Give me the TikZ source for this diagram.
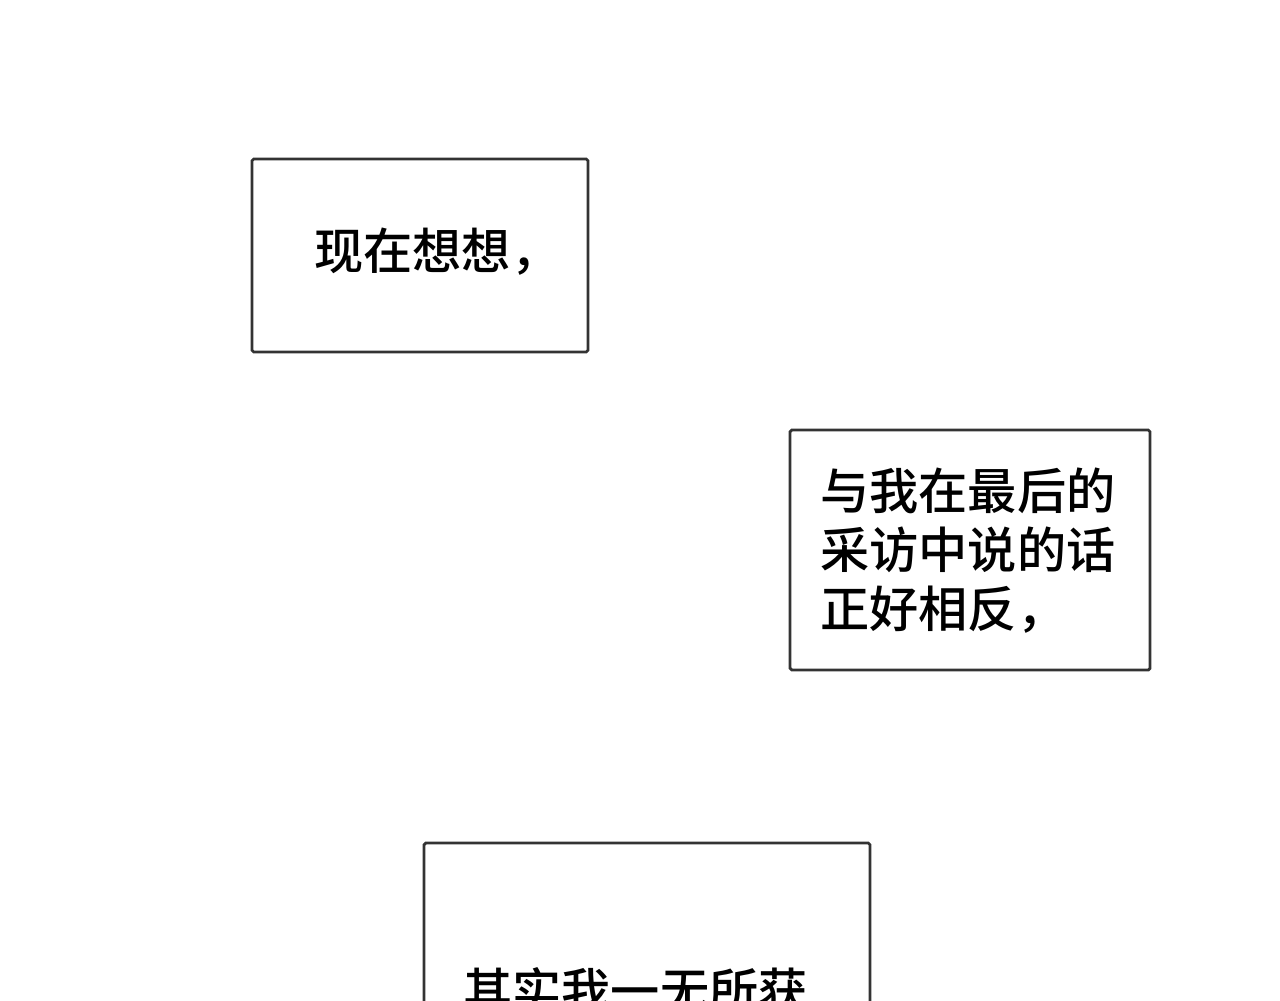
\documentclass[tikz,border=0pt]{standalone}
\usepackage{fontspec}
\newfontfamily\cjk{Noto Sans CJK SC Medium}
\begin{document}
\begin{tikzpicture}[x=0.02cm,y=-0.02cm,
  caption box/.style={draw=black!80,line width=1.6pt,rounded corners=1pt},
  caption text/.style={font=\cjk\fontsize{28}{33.5}\selectfont,align=left,inner sep=0pt}]
  \clip (0,0) rectangle (1280,1000);
  \fill[white] (0,0) rectangle (1280,1000);

  \draw[caption box] (252,159) rectangle (588,352);
  \node[caption text,anchor=west] (t1) at (314,252) {现在想想，};

  \draw[caption box] (790,430) rectangle (1150,670);
  \node[caption text,anchor=north west] (t2) at (820,468) {与我在最后的\\采访中说的话\\正好相反，};

  \draw[caption box] (424,843) rectangle (870,1100);
  \node[caption text,anchor=north west] (t3) at (463,967) {其实我一无所获};
\end{tikzpicture}
\end{document}
